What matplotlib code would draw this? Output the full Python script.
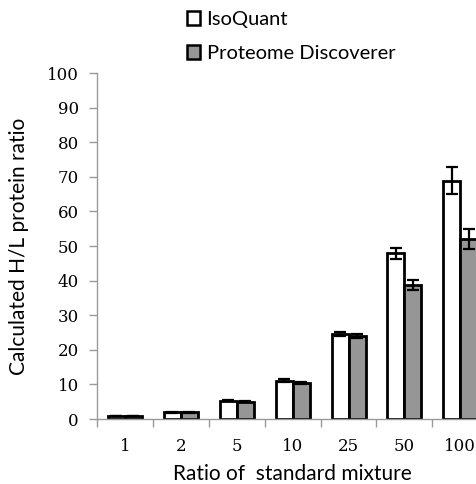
import matplotlib
matplotlib.use("Agg")
import matplotlib.pyplot as plt
import numpy as np
from matplotlib.patches import Patch

categories = ["1", "2", "5", "10", "25", "50", "100"]
isoquant = [0.9, 1.9, 5.3, 11.1, 24.6, 47.9, 68.9]
isoquant_err = [0.1, 0.1, 0.2, 0.5, 0.6, 1.6, 3.8]
pd_vals = [0.9, 1.9, 5.0, 10.4, 24.0, 38.7, 52.0]
pd_err = [0.1, 0.1, 0.2, 0.3, 0.6, 1.5, 3.0]

W, H = 477, 484
fig = plt.figure(figsize=(W / 100, H / 100), dpi=100)
left, right_px = 97, 97 + 7 * 55.9
bottom_px, top_px = 419, 73
ax = fig.add_axes([left / W, (H - bottom_px) / H, (right_px - left) / W, (bottom_px - top_px) / H])

x = np.arange(len(categories))
bw = 0.305
ekw = dict(ecolor="black", elinewidth=1.6, capsize=4, capthick=1.6)
ax.bar(x - bw / 2, isoquant, bw, color="white", edgecolor="black", linewidth=2,
       yerr=isoquant_err, error_kw=ekw, label="IsoQuant", zorder=2)
ax.bar(x + bw / 2, pd_vals, bw, color="#969696", edgecolor="black", linewidth=2,
       yerr=pd_err, error_kw=ekw, label="Proteome Discoverer", zorder=2)

ax.set_xlim(-0.5, len(categories) - 0.5)
ax.set_ylim(0, 100)
ax.set_yticks(np.arange(0, 101, 10))
ax.set_xticks(x)
ax.set_xticklabels(categories)
ax.set_xticks(np.arange(-0.5, len(categories), 1), minor=True)
ax.tick_params(axis="x", which="major", length=0, pad=14)
ax.tick_params(axis="x", which="minor", length=6, color="#9a9a9a", width=1)
ax.tick_params(axis="y", length=6, color="#9a9a9a", width=1, pad=7)
for lab in ax.get_xticklabels() + ax.get_yticklabels():
    lab.set_fontfamily("DejaVu Serif")
    lab.set_fontsize(12)
for s in ["top", "right"]:
    ax.spines[s].set_visible(False)
for s in ["left", "bottom"]:
    ax.spines[s].set_color("#9a9a9a")
    ax.spines[s].set_linewidth(1)

ax.set_xlabel("Ratio of  standard mixture", fontfamily="Lato", fontsize=15, labelpad=6)
ax.set_ylabel("Calculated H/L protein ratio", fontfamily="Lato", fontsize=15, labelpad=13)

handles = [Patch(facecolor="white", edgecolor="black", linewidth=1.8, label="IsoQuant"),
           Patch(facecolor="#969696", edgecolor="black", linewidth=1.8, label="Proteome Discoverer")]
fig.legend(handles=handles, loc="upper left", bbox_to_anchor=(187 / W, 1 - 11 / H),
           frameon=False, borderpad=0, borderaxespad=0,
           handlelength=0.67, handleheight=0.67, handletextpad=0.3,
           labelspacing=0.85, prop={"family": "Lato", "size": 14.5})

fig.savefig("out.png", dpi=100)
